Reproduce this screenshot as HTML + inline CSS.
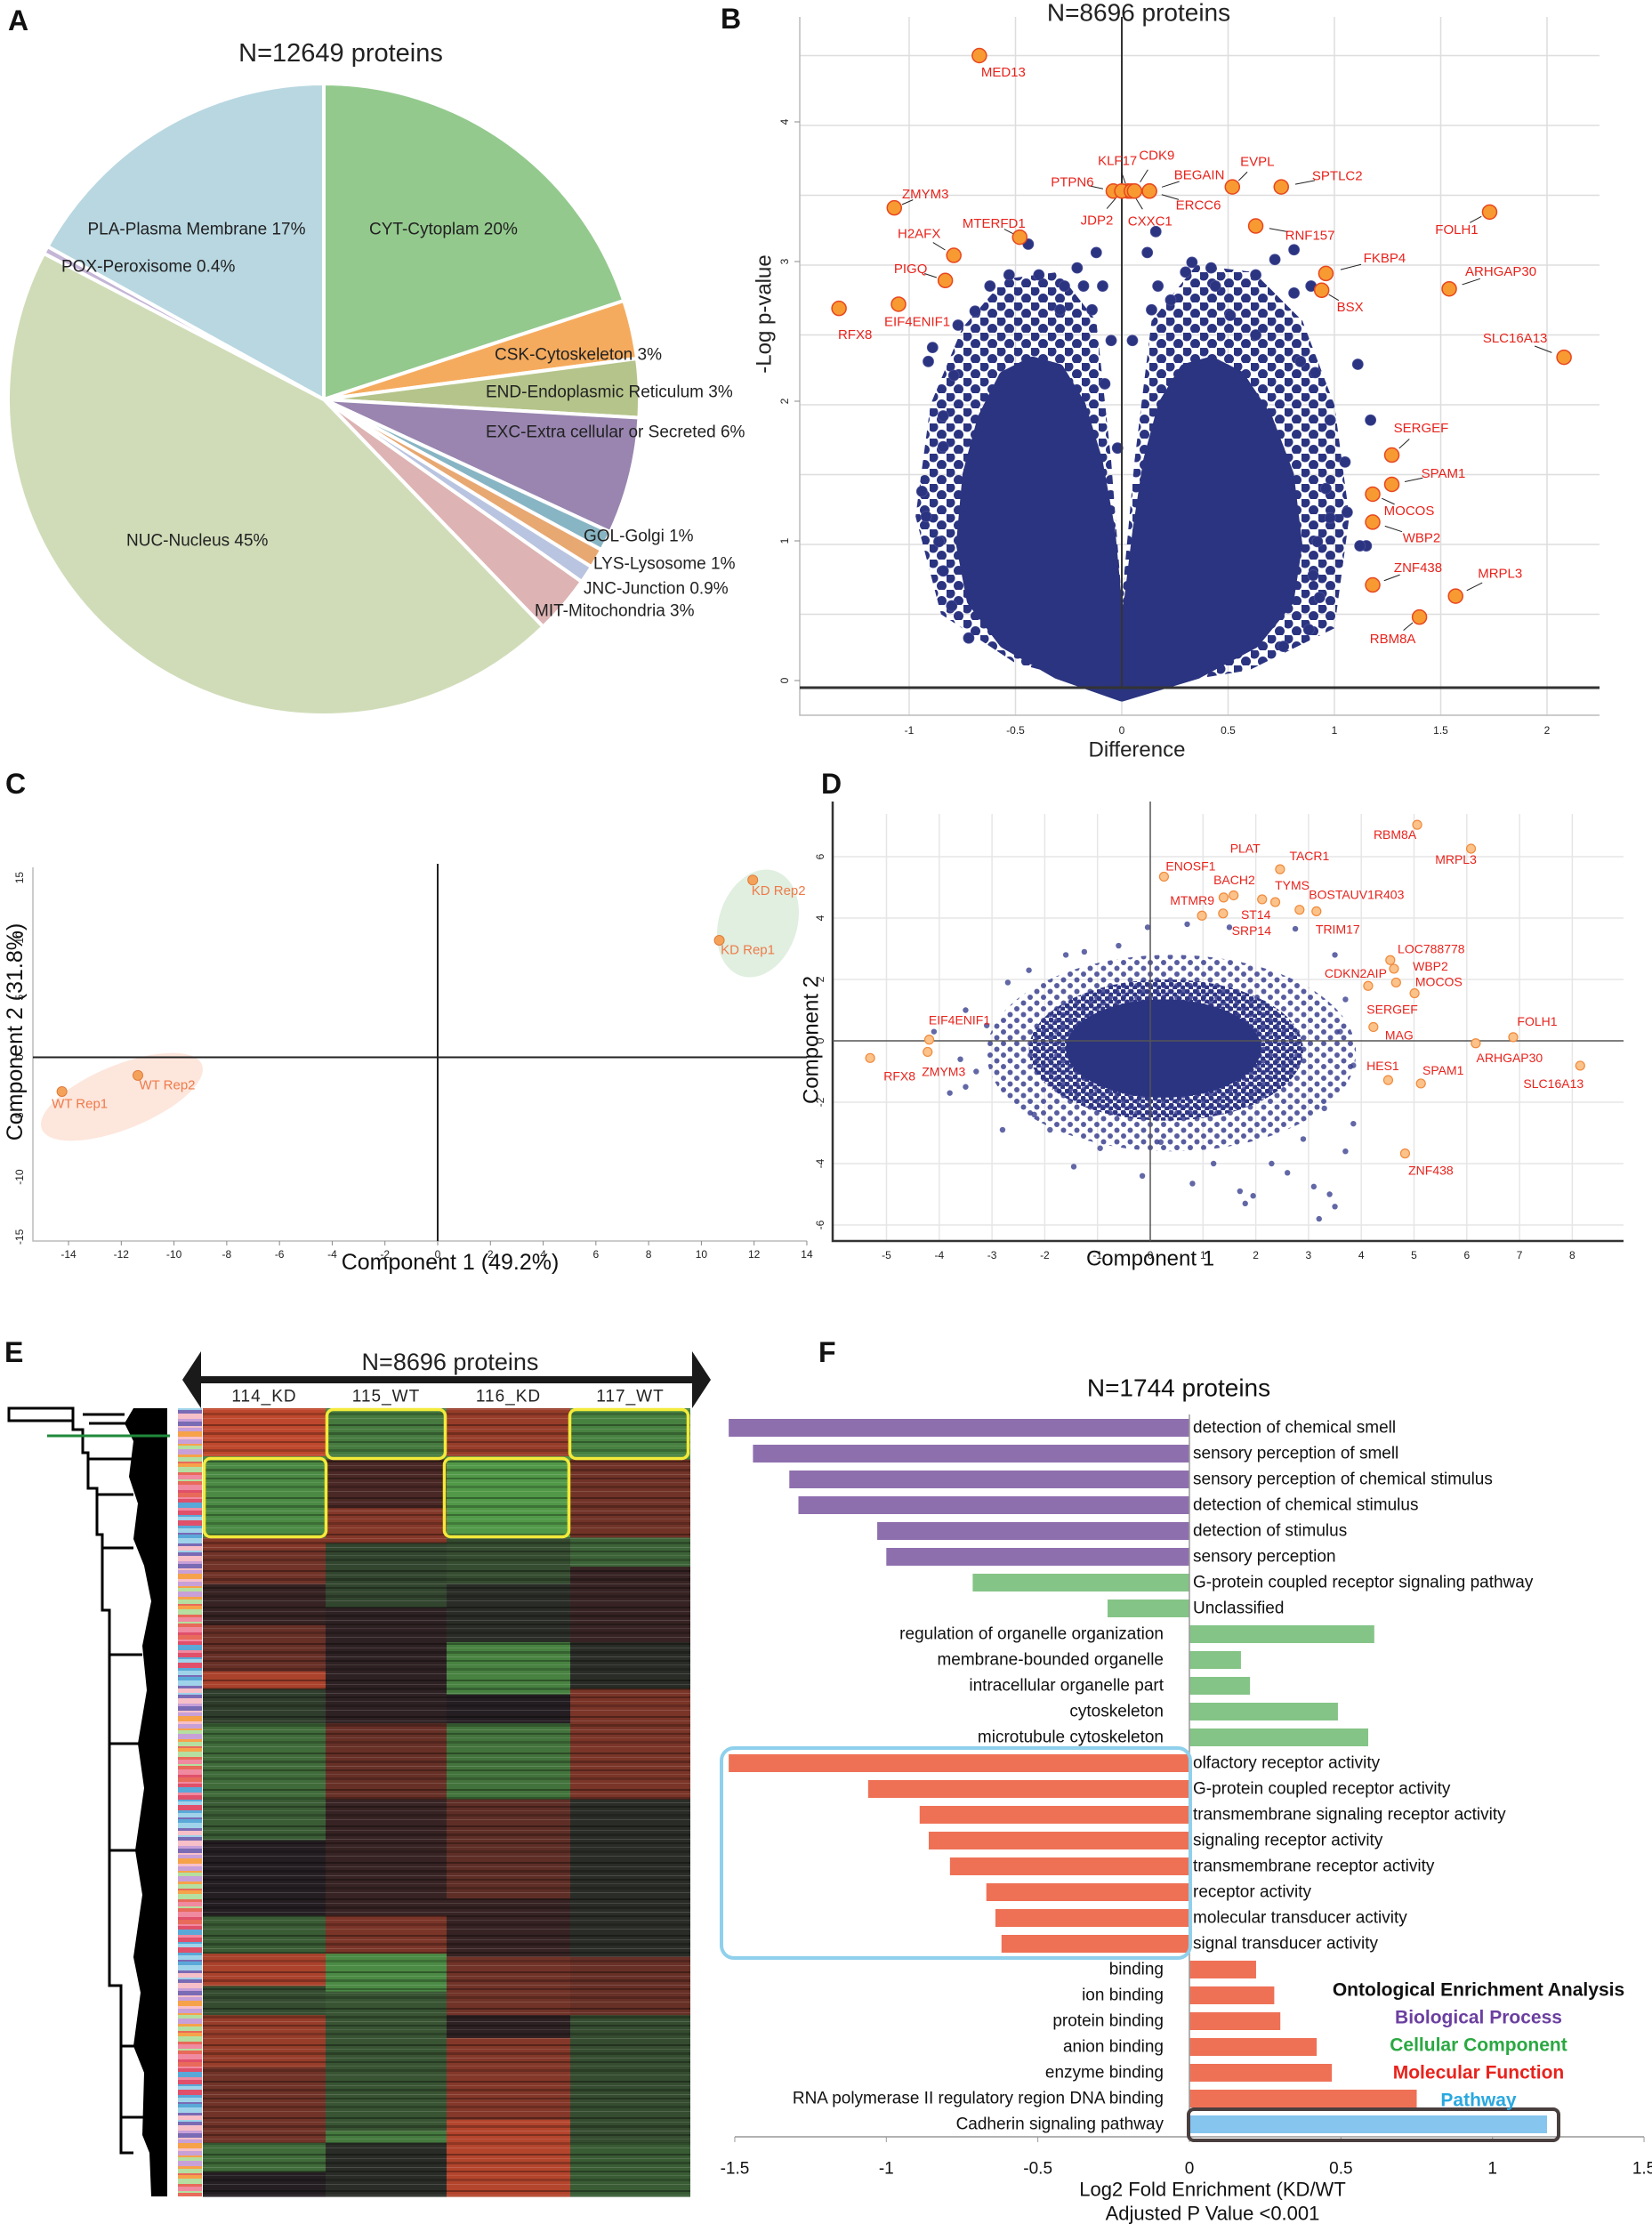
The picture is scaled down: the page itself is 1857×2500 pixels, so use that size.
<!DOCTYPE html>
<html><head><meta charset="utf-8"><style>
html,body{margin:0;padding:0;background:#fff;}
svg{display:block;}
text{font-family:"Liberation Sans",sans-serif;}
.nar{font-family:"Liberation Sans Narrow","Liberation Sans",sans-serif;}
</style></head><body>
<svg id="fig" xmlns="http://www.w3.org/2000/svg" width="1857" height="2500" viewBox="0 0 1857 2500">
<defs>
<pattern id="stripes" patternUnits="userSpaceOnUse" width="600" height="41">
<rect x="0" y="2" width="600" height="2" fill="#000" opacity="0.35"/>
<rect x="0" y="7" width="600" height="1" fill="#fff" opacity="0.12"/>
<rect x="0" y="11" width="600" height="3" fill="#000" opacity="0.25"/>
<rect x="0" y="17" width="600" height="1" fill="#fff" opacity="0.15"/>
<rect x="0" y="21" width="600" height="2" fill="#000" opacity="0.3"/>
<rect x="0" y="26" width="600" height="1" fill="#fff" opacity="0.1"/>
<rect x="0" y="30" width="600" height="3" fill="#000" opacity="0.2"/>
<rect x="0" y="36" width="600" height="1" fill="#fff" opacity="0.14"/>
</pattern>
<pattern id="dotsB" patternUnits="userSpaceOnUse" width="19" height="17">
<circle cx="4" cy="4" r="5.5" fill="#2b3480"/><circle cx="13.5" cy="12.5" r="5.5" fill="#2b3480"/>
</pattern>
<pattern id="dotsD" patternUnits="userSpaceOnUse" width="15" height="13">
<circle cx="3" cy="3" r="3" fill="#3b4190" opacity="0.85"/><circle cx="10.5" cy="9.5" r="3" fill="#3b4190" opacity="0.85"/>
</pattern>
<pattern id="dotsD2" patternUnits="userSpaceOnUse" width="9" height="8">
<circle cx="2.5" cy="2.5" r="3" fill="#2f3686"/><circle cx="7" cy="6.5" r="3" fill="#2f3686"/>
</pattern>
</defs>
<g id="panelA"></g>
<g id="panelB"></g>
<g id="panelC"></g>
<g id="panelD"></g>
<g id="panelE"></g>
<g id="panelF"></g>
</svg>
<script>
// ---------- DATA ----------
const pieLabels=["CYT-Cytoplam 20%","CSK-Cytoskeleton 3%","END-Endoplasmic Reticulum 3%","EXC-Extra cellular or Secreted 6%","GOL-Golgi 1%","LYS-Lysosome 1%","JNC-Junction 0.9%","MIT-Mitochondria 3%","NUC-Nucleus 45%","POX-Peroxisome 0.4%","PLA-Plasma Membrane 17%"];
const pieValues=[20,3,3,6,1,1,0.9,3,45,0.4,17];

const volcLabels=["MED13","ZMYM3","H2AFX","PIGQ","EIF4ENIF1","RFX8","MTERFD1","PTPN6","KLF17","JDP2","CXXC1","CDK9","BEGAIN","ERCC6","EVPL","SPTLC2","RNF157","FOLH1","FKBP4","BSX","ARHGAP30","SLC16A13","SERGEF","SPAM1","MOCOS","WBP2","ZNF438","MRPL3","RBM8A"];
const volcX=[-0.67,-1.07,-0.79,-0.83,-1.05,-1.33,-0.48,-0.04,0.03,0.0,0.045,0.06,0.13,0.13,0.52,0.75,0.63,1.73,0.96,0.94,1.54,2.08,1.27,1.27,1.18,1.18,1.18,1.57,1.40];
const volcY=[4.5,3.41,3.07,2.89,2.72,2.69,3.2,3.53,3.53,3.53,3.53,3.53,3.53,3.53,3.56,3.56,3.28,3.38,2.94,2.82,2.83,2.34,1.64,1.43,1.36,1.16,0.71,0.63,0.48];
const volcOutX=[-0.44,-0.12,0.12,0.16,-0.21,-0.53,-0.62,-0.39,-0.27,-0.18,-0.09,-0.29,-0.14,-0.69,-0.77,-0.89,-0.91,-0.79,-0.05,0.05,-0.08,-0.02,-0.84,-0.84,-0.94,-0.92,-0.86,-0.84,-0.80,-0.72,0.33,0.42,0.30,0.17,0.44,0.63,0.72,0.81,0.81,0.89,0.14,0.23,0.51,0.63,1.11,0.91,0.84,1.17,0.98,1.05,0.96,0.98,1.06,1.15,1.12,0.93,0.88,0.76,0.92,0.90];
const volcOutY=[3.15,3.09,3.09,3.24,2.98,2.93,2.85,2.93,2.85,2.85,2.85,2.68,2.68,2.67,2.57,2.41,2.31,2.21,2.46,2.46,2.15,1.69,1.92,1.70,1.38,1.20,1.02,0.81,0.56,0.33,3.02,2.98,2.95,2.85,2.85,2.93,3.04,3.11,2.80,2.85,2.68,2.75,2.64,2.50,2.29,2.23,2.31,1.89,1.89,1.59,1.40,1.19,1.23,0.99,0.99,0.62,0.39,0.27,1.02,0.78];
const volcCoreX=[0,-0.3,-0.55,-0.7,-0.75,-0.72,-0.65,-0.55,-0.42,-0.3,-0.2,-0.12,-0.06,-0.03,0,0.04,0.08,0.13,0.2,0.3,0.42,0.55,0.68,0.78,0.82,0.78,0.62,0.35];
const volcCoreY=[-0.08,0.08,0.3,0.6,1.0,1.5,1.9,2.2,2.3,2.25,2.0,1.6,1.1,0.6,0.35,0.6,1.1,1.6,2.0,2.25,2.3,2.2,1.9,1.5,1.0,0.6,0.3,0.08];
const volcHaloX=[0,-0.5,-0.85,-0.97,-0.9,-0.75,-0.55,-0.3,-0.12,-0.05,0,0.06,0.14,0.35,0.62,0.85,1.0,1.07,1.0,0.6];
const volcHaloY=[-0.05,0.15,0.5,1.2,2.0,2.55,2.9,2.95,2.6,1.6,0.6,1.6,2.6,3.0,2.95,2.6,2.0,1.2,0.4,0.1];

const pcaLabels=["WT Rep1","WT Rep2","KD Rep1","KD Rep2"];
const pcaX=[-14.25,-11.37,10.68,11.95];
const pcaY=[-2.86,-1.51,9.77,14.8];

const loadLabels=["RBM8A","MRPL3","PLAT","BACH2","TACR1","ENOSF1","TYMS","ST14","BOSTAUV1R403","TRIM17","MTMR9","SRP14","LOC788778","WBP2","CDKN2AIP","MOCOS","SERGEF","MAG","FOLH1","ARHGAP30","SLC16A13","HES1","SPAM1","ZNF438","EIF4ENIF1","ZMYM3","RFX8"];
const loadX=[5.06,6.08,1.58,1.39,2.46,0.26,2.37,2.12,2.83,3.15,0.98,1.38,4.55,4.62,4.13,4.66,5.01,4.23,6.88,6.17,8.15,4.51,5.13,4.83,-4.19,-4.22,-5.31];
const loadY=[7.04,6.26,4.74,4.67,5.59,5.35,4.52,4.61,4.27,4.22,4.08,4.15,2.63,2.35,1.79,1.90,1.55,0.45,0.12,-0.08,-0.81,-1.28,-1.39,-3.67,0.04,-0.36,-0.56];
const loadOutX=[1.8,1.95,1.7,3.2,3.5,3.4,3.1,3.7,3.85,2.6,2.3,0.8,-0.15,-1.45,-0.95,-1.9,-2.8,-3.5,-3.3,-3.8,-3.5,-3.1,-2.7,-1.6,-1.25,-0.05,0.7,1.5,2.75,3.5,3.7,3.6,3.85,-4.1,-3.6,3.3,2.9,-2.3,-2.2,1.2,0.2,-0.6];
const loadOutY=[-5.3,-5.05,-4.9,-5.8,-5.4,-5.0,-4.75,-3.6,-2.7,-4.3,-4.0,-4.65,-4.4,-4.1,-3.5,-2.9,-2.9,-1.5,-1.0,-1.7,1.0,0.5,1.9,2.8,2.9,3.7,3.8,3.7,3.65,2.8,1.35,0.3,-0.8,0.3,-0.6,-2.2,-3.2,2.3,-2.4,-4.0,-3.3,3.1];
const loadCore={cx:0.25,cy:-0.25,rx:1.85,ry:1.6};
const loadMid={cx:0.3,cy:-0.3,rx:2.6,ry:2.3};
const loadHalo={cx:0.4,cy:-0.4,rx:3.5,ry:3.2};

const heatCols=["114_KD","115_WT","116_KD","117_WT"];
const heatStart=[[0,6.1,16.4,17.9,22.3,27.5,33.4,35.6,40.0,49.6,54.8,64.4,69.2,73.3,77.0,83.6,93.2,96.9],[0,6.5,12.7,17.1,25.3,40.0,49.6,64.4,69.2,74.0,78.4,91.7,93.2],[0,6.1,16.4,22.3,29.7,36.3,40.0,49.6,62.2,69.6,77.0,79.9,90.3],[0,6.5,16.4,20.1,29.7,35.6,49.6,69.6,77.0,93.2]];
const heatVal=[[0.8,-0.7,0.5,0.4,0.1,0.35,0.7,-0.2,-0.5,-0.4,0,-0.4,0.7,-0.3,0.6,0.4,-0.5,0],[-0.6,0.2,0.5,-0.25,0.05,0.35,0.1,0.45,-0.7,-0.35,-0.35,-0.6,-0.1],[0.6,-0.8,-0.3,-0.1,-0.65,0,-0.55,0.3,0.1,0.4,0.05,0.5,0.75],[-0.65,0.4,-0.45,0.1,-0.1,0.45,-0.1,0.35,-0.3,-0.4]];

const goTerms=["detection of chemical smell","sensory perception of smell","sensory perception of chemical stimulus","detection of chemical stimulus","detection of stimulus","sensory perception","G-protein coupled receptor signaling pathway","Unclassified","regulation of organelle organization","membrane-bounded organelle","intracellular organelle part","cytoskeleton","microtubule cytoskeleton","olfactory receptor activity","G-protein coupled receptor activity","transmembrane signaling  receptor activity","signaling receptor activity","transmembrane receptor activity","receptor activity","molecular transducer activity","signal transducer activity","binding","ion binding","protein binding","anion binding","enzyme binding","RNA polymerase II regulatory region DNA binding","Cadherin signaling pathway"];
const goValues=[-1.52,-1.44,-1.32,-1.29,-1.03,-1.00,-0.715,-0.27,0.61,0.17,0.20,0.49,0.59,-1.52,-1.06,-0.89,-0.86,-0.79,-0.67,-0.64,-0.62,0.22,0.28,0.30,0.42,0.47,0.75,1.18];
const goCategory=["BP","BP","BP","BP","BP","BP","CC","CC","CC","CC","CC","CC","CC","MF","MF","MF","MF","MF","MF","MF","MF","MF","MF","MF","MF","MF","MF","PW"];
const goTicks=[-1.5,-1,-0.5,0,0.5,1,1.5];

// ---------- HELPERS ----------
const NS='http://www.w3.org/2000/svg';
function mk(tag,attrs,parent){const e=document.createElementNS(NS,tag);for(const k in attrs)e.setAttribute(k,attrs[k]);parent.appendChild(e);return e;}
function tx(str,attrs,parent){const e=mk('text',attrs,parent);e.textContent=str;return e;}
const root=document.getElementById('fig');

const letters=[["A",19,23],["B",820,21],["C",16,881],["D",933,881],["E",15,1520],["F",930,1520]];
letters.forEach(l=>{const t=tx(l[0],{x:l[1]-10,y:l[2]+11,'font-size':32,'font-weight':'bold',fill:'#111'},root);

});

// ---------- PANEL A: PIE ----------
(function(){
const g=document.getElementById('panelA');
const cx=364,cy=449,r=355;
const cols=["#93c98d","#f5ab5e","#b5c48a","#9985b0","#88b5c4","#e8a872","#b9c4e0","#ddb3b3","#d0dcb8","#c5b5d6","#b8d7e1"];
const total=pieValues.reduce((a,b)=>a+b,0);
let acc=0;
pieValues.forEach((v,i)=>{
 const a0=acc/total*2*Math.PI; acc+=v; const a1=acc/total*2*Math.PI;
 const x0=cx+r*Math.sin(a0),y0=cy-r*Math.cos(a0),x1=cx+r*Math.sin(a1),y1=cy-r*Math.cos(a1);
 const large=(a1-a0)>Math.PI?1:0;
 const p=mk('path',{d:`M${cx},${cy} L${x0},${y0} A${r},${r} 0 ${large} 1 ${x1},${y1} Z`,fill:cols[i],stroke:'#fff','stroke-width':4,'stroke-linejoin':'round'},g);
 
 
});
const t=tx("N=12649 proteins",{x:383,y:60,'font-size':29,'text-anchor':'middle','dominant-baseline':'central',fill:'#222'},g);


const lp=[[415,258,'start'],[556,399,'start'],[546,441,'start'],[546,486,'start'],[656,603,'start'],[667,634,'start'],[656,662,'start'],[601,687,'start'],[142,608,'start'],[69,300,'start'],[221,258,'middle']];
pieLabels.forEach((s,i)=>{const e=tx(s,{x:lp[i][0],y:lp[i][1],'font-size':19,'text-anchor':lp[i][2],'dominant-baseline':'central',fill:'#222'},g);

});
})();

// ---------- PANEL B: VOLCANO ----------
(function(){
const g=document.getElementById('panelB');
const X=v=>1261+v*239, Y=v=>769-v*157;
const L=899,R=1798,T=19,B=804;
[-1,-0.5,0,0.5,1,1.5,2].forEach(v=>{const l=mk('line',{x1:X(v),x2:X(v),y1:T,y2:B,stroke:'#ddd','stroke-width':1.5},g);
});
[0.5,1,1.5,2,2.5,3,3.5,4,4.5].forEach(v=>{const l=mk('line',{x1:L,x2:R,y1:Y(v),y2:Y(v),stroke:'#ddd','stroke-width':1.5},g);
});
const ax=mk('path',{d:`M${L},${T} L${L},${B} L${R},${B}`,fill:'none',stroke:'#bbb','stroke-width':1.5},g);

[0,1,2,3,4].forEach(v=>{const t=tx(String(v),{x:882,y:Y(v)-4,'font-size':12,'text-anchor':'middle',transform:`rotate(-90 882 ${Y(v)-4})`,'dominant-baseline':'central',fill:'#222'},g);

const tk=mk('line',{x1:L-6,x2:L,y1:Y(v)-4,y2:Y(v)-4,stroke:'#888'},g);});
[-1,-0.5,0,0.5,1,1.5,2].forEach(v=>{const t=tx(String(v),{x:X(v),y:821,'font-size':12,'text-anchor':'middle','dominant-baseline':'central',fill:'#222'},g);
});
let dh='';volcHaloX.forEach((v,i)=>{dh+=(i?'L':'M')+X(v)+','+Y(volcHaloY[i]);});
const halo=mk('path',{d:dh+'Z',fill:'url(#dotsB)'},g);

let d='';volcCoreX.forEach((v,i)=>{d+=(i?'L':'M')+X(v)+','+Y(volcCoreY[i]);});
const core=mk('path',{d:d+'Z',fill:'#2b3480',stroke:'#2b3480','stroke-width':14,'stroke-linejoin':'round'},g);

volcOutX.forEach((v,i)=>{const c=mk('circle',{cx:X(v),cy:Y(volcOutY[i]),r:6,fill:'#2b3480',stroke:'#4a4f98','stroke-width':0.8},g);
});
const vl=mk('line',{x1:X(0),x2:X(0),y1:T,y2:773,stroke:'#333','stroke-width':2},g);

const hl=mk('line',{x1:L,x2:R,y1:773,y2:773,stroke:'#333','stroke-width':3},g);

const off=[[27,19],[35,-15],[-39,-24],[-39,-13],[21,20],[18,30],[-29,-15],[-46,-10],[-12,-34],[-28,33],[21,34],[25,-40],[56,-18],[55,16],[28,-28],[63,-12],[61,11],[-37,20],[66,-17],[32,19],[58,-19],[-55,-21],[33,-30],[58,-12],[41,19],[55,18],[51,-19],[50,-25],[-30,25]];
volcLabels.forEach((s,i)=>{const px=X(volcX[i]),py=Y(volcY[i]);
 const o=off[i];const dist=Math.hypot(o[0],o[1]);
 if(dist>30&&i!==0&&i!==5){const a=mk('line',{x1:px+o[0]*0.25,y1:py+o[1]*0.25,x2:px+o[0]*0.6,y2:py+o[1]*0.6,stroke:'#222','stroke-width':1},g);
 }
 const c=mk('circle',{cx:px,cy:py,r:8,fill:'#f79a32',stroke:'#e8461e','stroke-width':1.5},g);
 
 const t=tx(s,{x:px+o[0],y:py+o[1],'font-size':15,'text-anchor':'middle','dominant-baseline':'central',fill:'#e8231c',class:'nar'},g);
 });
const ti=tx("N=8696 proteins",{x:1280,y:14,'font-size':28,'text-anchor':'middle','dominant-baseline':'central',fill:'#222'},g);

const xt=tx("Difference",{x:1278,y:843,'font-size':24,'text-anchor':'middle','dominant-baseline':'central',fill:'#222'},g);

const yt=tx("-Log p-value",{x:859,y:353,'font-size':24,'text-anchor':'middle','dominant-baseline':'central',transform:'rotate(-90 859 353)',fill:'#222'},g);

})();

// ---------- PANEL C: PCA ----------
(function(){
const g=document.getElementById('panelC');
const X=v=>492+v*29.64, Y=v=>1188.5-v*13.46;
const e1=mk('ellipse',{cx:137,cy:1233,rx:97,ry:36,transform:'rotate(-22 137 1233)',fill:'#fde6dc'},g);

const e2=mk('ellipse',{cx:852,cy:1038,rx:44,ry:62,transform:'rotate(18 852 1038)',fill:'#e0efe0'},g);

const ax=mk('path',{d:'M37,975 L37,1395 L907,1395',fill:'none',stroke:'#bbb','stroke-width':1.5},g);

const vl=mk('line',{x1:X(0),x2:X(0),y1:971,y2:1395,stroke:'#222','stroke-width':2},g);

const hl=mk('line',{x1:37,x2:907,y1:Y(0),y2:Y(0),stroke:'#222','stroke-width':2},g);

[-14,-12,-10,-8,-6,-4,-2,0,2,4,6,8,10,12,14].forEach(v=>{
 const tk=mk('line',{x1:X(v),x2:X(v),y1:1395,y2:1400,stroke:'#888'},g);
 const t=tx(String(v),{x:X(v),y:1410,'font-size':12,'text-anchor':'middle','dominant-baseline':'central',fill:'#222'},g);
 });
[-15,-10,-5,0,5,10,15].forEach(v=>{
 const t=tx(String(v),{x:22,y:Y(v),'font-size':12,'text-anchor':'middle','dominant-baseline':'central',transform:`rotate(-90 22 ${Y(v)})`,fill:'#222'},g);
 });
const loff=[[20,14],[33,11],[32,11],[29,12]];
pcaLabels.forEach((s,i)=>{const px=X(pcaX[i]),py=Y(pcaY[i]);
 const c=mk('circle',{cx:px,cy:py,r:5.5,fill:'#f4a259',stroke:'#e07a3a','stroke-width':1},g);
 
 const t=tx(s,{x:px+loff[i][0],y:py+loff[i][1],'font-size':15,'text-anchor':'middle','dominant-baseline':'central',fill:'#ee7a4a',class:'nar'},g);
 });
const xt=tx("Component 1 (49.2%)",{x:506,y:1419,'font-size':25,'text-anchor':'middle','dominant-baseline':'central',fill:'#111'},g);

const yt=tx("Component 2 (31.8%)",{x:17,y:1160,'font-size':25,'text-anchor':'middle','dominant-baseline':'central',transform:'rotate(-90 17 1160)',fill:'#111'},g);

})();

// ---------- PANEL D: LOADINGS ----------
(function(){
const g=document.getElementById('panelD');
const X=v=>1293+v*59.3, Y=v=>1170-v*34.5;
[-5,-4,-3,-2,-1,1,2,3,4,5,6,7,8].forEach(v=>{const l=mk('line',{x1:X(v),x2:X(v),y1:915,y2:1395,stroke:'#e6e6e6','stroke-width':1.5},g);
});
[-6,-4,-2,2,4,6].forEach(v=>{const l=mk('line',{x1:936,x2:1825,y1:Y(v),y2:Y(v),stroke:'#e6e6e6','stroke-width':1.5},g);
});
const halo=mk('ellipse',{cx:X(loadHalo.cx),cy:Y(loadHalo.cy),rx:loadHalo.rx*59.3,ry:loadHalo.ry*34.5,fill:'url(#dotsD)'},g);

const mid=mk('ellipse',{cx:X(loadMid.cx),cy:Y(loadMid.cy),rx:loadMid.rx*59.3,ry:loadMid.ry*34.5,fill:'url(#dotsD2)'},g);

const core=mk('ellipse',{cx:X(loadCore.cx),cy:Y(loadCore.cy),rx:loadCore.rx*59.3,ry:loadCore.ry*34.5,fill:'#2b3480'},g);

loadOutX.forEach((v,i)=>{const c=mk('circle',{cx:X(v),cy:Y(loadOutY[i]),r:3.2,fill:'#3b4190',opacity:0.8},g);
});
const ax=mk('path',{d:'M936,901 L936,1395 L1825,1395',fill:'none',stroke:'#333','stroke-width':2.5},g);

const vl=mk('line',{x1:X(0),x2:X(0),y1:901,y2:1395,stroke:'#555','stroke-width':1.5},g);

const hl=mk('line',{x1:936,x2:1825,y1:Y(0),y2:Y(0),stroke:'#555','stroke-width':1.5},g);

[-5,-4,-3,-2,-1,0,1,2,3,4,5,6,7,8].forEach(v=>{const t=tx(String(v),{x:X(v),y:1411,'font-size':12,'text-anchor':'middle','dominant-baseline':'central',fill:'#222'},g);
});
[-6,-4,-2,0,2,4,6].forEach(v=>{const t=tx(String(v),{x:922,y:Y(v),'font-size':12,'text-anchor':'middle','dominant-baseline':'central',transform:`rotate(-90 922 ${Y(v)})`,fill:'#222'},g);
});
const off=[[-25,11],[-17,12],[13,-53],[12,-20],[33,-15],[30,-12],[19,-19],[-7,17],[64,-17],[24,20],[-11,-17],[32,19],[46,-13],[41,-3],[-14,-14],[48,-1],[-25,18],[29,9],[27,-18],[38,16],[-30,20],[-6,-16],[25,-15],[29,19],[34,-22],[18,22],[33,20]];
loadLabels.forEach((s,i)=>{const px=X(loadX[i]),py=Y(loadY[i]);
 const c=mk('circle',{cx:px,cy:py,r:5,fill:'#fbc28a',stroke:'#f08a3c','stroke-width':1.2},g);
 
 const t=tx(s,{x:px+off[i][0],y:py+off[i][1],'font-size':14,'text-anchor':'middle','dominant-baseline':'central',fill:'#e8231c',class:'nar'},g);
 });
const xt=tx("Component 1",{x:1293,y:1415,'font-size':24,'text-anchor':'middle','dominant-baseline':'central',fill:'#111'},g);

const yt=tx("Component 2",{x:912,y:1169,'font-size':24,'text-anchor':'middle','dominant-baseline':'central',transform:'rotate(-90 912 1169)',fill:'#111'},g);

})();

// ---------- PANEL E: HEATMAP ----------
(function(){
const g=document.getElementById('panelE');
const colX=[228,366,502,641,776], top=1583, bot=2469, H=bot-top;
function col(v){const base=[36,30,34];const tgt=v>0?[228,82,48]:[92,184,82];const a=Math.min(1,Math.abs(v));
 return 'rgb('+base.map((b,k)=>Math.round(b+(tgt[k]-b)*a)).join(',')+')';}
heatCols.forEach((name,c)=>{
 heatStart[c].forEach((s,i)=>{const e=(i+1<heatStart[c].length)?heatStart[c][i+1]:100;
  const r=mk('rect',{x:colX[c],y:top+s/100*H,width:colX[c+1]-colX[c],height:(e-s)/100*H+0.5,fill:col(heatVal[c][i])},g);
  });
 const t=tx(name,{x:(colX[c]+colX[c+1])/2,y:1570,'font-size':19,'text-anchor':'middle','dominant-baseline':'central',fill:'#222','letter-spacing':1},g);
 });
const tex=mk('rect',{x:228,y:top,width:548,height:H,fill:'url(#stripes)'},g);

const pal=['#9fd3ea','#f08aa0','#f6a24a','#7a6bb5','#e0506a','#b5dfa0','#f7c0c8','#5aa8d8','#e86a5a','#c8a0d8'];
for(let y=top,i=0;y<bot;i++){const h=2+((i*7)%5);const r=mk('rect',{x:200,y:y,width:27,height:h,fill:pal[(i*3+Math.floor(i/4))%pal.length]},g);
 y+=h;}
const ar=mk('path',{d:'M205,1551 L226,1519 L226,1547 L778,1547 L778,1519 L799,1551 L778,1583 L778,1555 L226,1555 L226,1583 Z',fill:'#1a1a1a'},g);

const ti=tx("N=8696 proteins",{x:506,y:1531,'font-size':27,'text-anchor':'middle','dominant-baseline':'central',fill:'#222'},g);

[[366,1583,136,58,'115-wt'],[639,1583,136,58,'117-wt'],[228,1638,140,91,'114-kd'],[498,1638,143,91,'116-kd']].forEach(b=>{
 const r=mk('rect',{x:b[0]+1.5,y:b[1]+1.5,width:b[2]-3,height:b[3]-3,rx:7,fill:'none',stroke:'#f3ea3a','stroke-width':3.5},g);
 });
const dg=mk('g',{fill:'none',stroke:'#000','stroke-width':3},g);

mk('rect',{x:10,y:1583,width:72,height:14},dg);
mk('polyline',{points:'82,1585 82,1607 93,1607 93,1633 99,1633 99,1673 109,1673 109,1725 115,1725 115,1810 123,1810 123,2232 136,2232 136,2420 150,2420'},dg);
mk('path',{d:'M93,1590 L140,1590 M100,1600 L150,1600 M99,1640 L150,1640 M109,1680 L150,1680 M115,1740 L150,1740 M123,1860 L160,1860 M123,1960 L160,1960 M123,2080 L165,2080 M136,2300 L165,2300 M136,2380 L165,2380'},dg);
const mass=mk('polygon',{points:'150,1583 188,1583 188,2469 170,2469 168,2420 160,2400 162,2330 150,2300 158,2240 150,2200 160,2130 152,2080 162,2010 155,1960 165,1900 160,1850 170,1800 162,1760 150,1730 155,1690 145,1660 150,1620 140,1600',fill:'#000',stroke:'none'},g);

const gl=mk('line',{x1:53,x2:191,y1:1614,y2:1614,stroke:'#1f8a3a','stroke-width':3},g);

})();

// ---------- PANEL F: ENRICHMENT ----------
(function(){
const g=document.getElementById('panelF');
const X=v=>1337+v*340.7, Y=i=>1605+i*29.0;
const cc={BP:'#8e6fae',CC:'#85c487',MF:'#ee7156',PW:'#86c5ee'};
goValues.forEach((v,i)=>{const x0=Math.min(X(0),X(v));
 const r=mk('rect',{x:x0,y:Y(i)-10,width:Math.abs(X(v)-X(0)),height:20,fill:cc[goCategory[i]]},g);
 
 const right=v<0;
 const t=tx(goTerms[i],{x:right?1341:1308,y:Y(i),'font-size':19,'text-anchor':right?'start':'end','dominant-baseline':'central',fill:'#111'},g);
 });
const yl=mk('line',{x1:X(0),x2:X(0),y1:1590,y2:2402,stroke:'#999','stroke-width':1.5},g);

const xl=mk('line',{x1:826,x2:1848,y1:2402,y2:2402,stroke:'#999','stroke-width':1.5},g);

goTicks.forEach(v=>{const tk=mk('line',{x1:X(v),x2:X(v),y1:2402,y2:2408,stroke:'#999'},g);
 
 const t=tx(String(v),{x:X(v),y:2438,'font-size':19,'text-anchor':'middle','dominant-baseline':'central',fill:'#111'},g);
 });
const bb=mk('rect',{x:811,y:1965,width:527,height:236,rx:14,fill:'none',stroke:'#8fd0ec','stroke-width':4},g);

const db=mk('rect',{x:1336,y:2371,width:416,height:35,rx:6,fill:'none',stroke:'#4a3f3f','stroke-width':4},g);

const ti=tx("N=1744 proteins",{x:1325,y:1560,'font-size':28,'text-anchor':'middle','dominant-baseline':'central',fill:'#111'},g);

const a1=tx("Log2  Fold Enrichment (KD/WT",{x:1363,y:2461,'font-size':22,'text-anchor':'middle','dominant-baseline':'central',fill:'#111'},g);

const a2=tx("Adjusted P Value <0.001",{x:1363,y:2488,'font-size':22,'text-anchor':'middle','dominant-baseline':'central',fill:'#111'},g);

const leg=[["Ontological Enrichment Analysis",'#111',2237],["Biological Process",'#6b3fa0',2268],["Cellular Component",'#2aa842',2299],["Molecular Function",'#e8231c',2330],["Pathway",'#29a8e0',2361]];
leg.forEach(l=>{const t=tx(l[0],{x:1662,y:l[2],'font-size':21,'font-weight':'bold','text-anchor':'middle','dominant-baseline':'central',fill:l[1]},g);
 });
})();
</script>
</body></html>
